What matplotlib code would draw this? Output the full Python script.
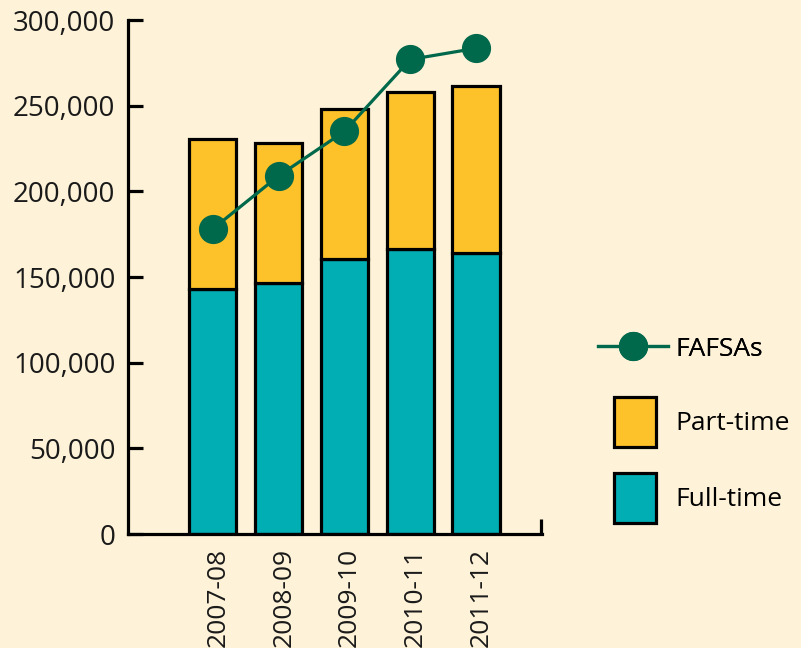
import numpy as np
import matplotlib.pyplot as plt
from matplotlib.lines import Line2D
from matplotlib.patches import Patch

years = ['2007-08', '2008-09', '2009-10', '2010-11', '2011-12']
full_time = [143000, 146500, 160500, 166500, 164000]
part_time = [87500, 81500, 87500, 91500, 97500]
fafsas = [178000, 209000, 235000, 277000, 283500]
yticks = [0, 50000, 100000, 150000, 200000, 250000, 300000]

bg = '#fef3d8'
yellow = '#fdc22a'
teal = '#00aeb3'
green = '#00684b'

plt.rcParams['font.family'] = ['Open Sans', 'DejaVu Sans']

fig = plt.figure(figsize=(8.01, 6.48), dpi=100, facecolor=bg)
ax = fig.add_axes([0.1598, 0.1759, 0.5169, 0.7932])
ax.set_facecolor(bg)

x = np.arange(len(years))
ax.bar(x, full_time, width=0.72, color=teal, edgecolor='black', linewidth=2.3, zorder=2)
ax.bar(x, part_time, width=0.72, bottom=full_time, color=yellow, edgecolor='black', linewidth=2.3, zorder=2)
ax.plot(x, fafsas, color=green, linewidth=2.3, marker='o', markersize=20, zorder=3)

ax.set_xlim(-1.285, 5.0)
ax.set_ylim(0, 300000)
ax.set_yticks(yticks)
ax.set_yticklabels([f'{v:,}' for v in yticks])
ax.set_xticks(x + 0.08)
ax.set_xticklabels(years, rotation=90, va='top', ha='center')
ax.set_xticks([4.98], minor=True)

for s in ['top', 'right']:
    ax.spines[s].set_visible(False)
for s in ['left', 'bottom']:
    ax.spines[s].set_linewidth(2.3)
    ax.spines[s].set_color('black')

ax.tick_params(axis='y', direction='in', length=11, width=2.3, labelsize=20, pad=9, colors='black', labelcolor='#1a1a1a')
ax.tick_params(axis='x', which='major', length=0, labelsize=19, pad=10, labelcolor='#1a1a1a')
ax.tick_params(axis='x', which='minor', direction='in', length=11, width=2.3)

h_line = [Line2D([], [], color=green, linewidth=2.3, marker='o', markersize=20)]
leg1 = fig.legend(h_line, ['FAFSAs'], loc='center left', bbox_to_anchor=(0.7466, 0.4614),
                  frameon=False, fontsize=19, handlelength=2.65, handletextpad=0.3,
                  borderpad=0, borderaxespad=0)
h_patch = [Patch(facecolor=yellow, edgecolor='black', linewidth=2.3),
           Patch(facecolor=teal, edgecolor='black', linewidth=2.3)]
leg2 = fig.legend(h_patch, ['Part-time', 'Full-time'], loc='center left', bbox_to_anchor=(0.7665, 0.290),
                  frameon=False, fontsize=19, handlelength=1.59, handleheight=2.54,
                  handletextpad=0.75, labelspacing=1.0, borderpad=0, borderaxespad=0)
fig.add_artist(leg1)

fig.savefig('out.png', dpi=100, facecolor=bg)
